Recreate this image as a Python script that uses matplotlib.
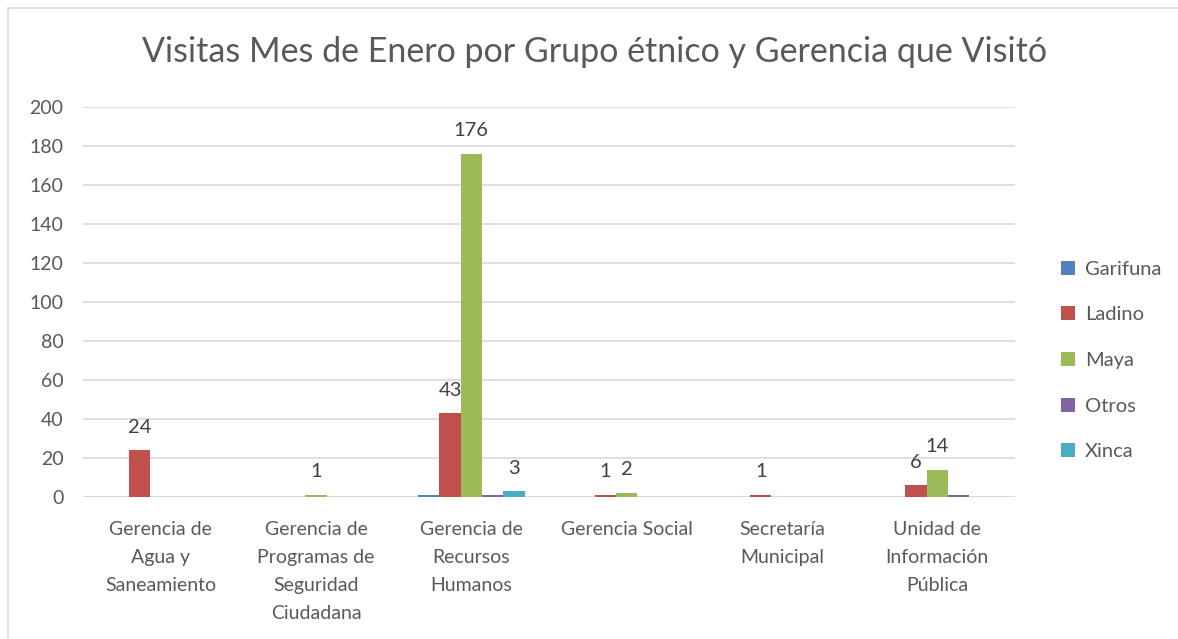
import numpy as np
import matplotlib.pyplot as plt
from matplotlib.patches import Rectangle

plt.rcParams['font.family'] = ['Lato', 'DejaVu Sans']

categories = [
    "Gerencia de\nAgua y\nSaneamiento",
    "Gerencia de\nProgramas de\nSeguridad\nCiudadana",
    "Gerencia de\nRecursos\nHumanos",
    "Gerencia Social",
    "Secretaría\nMunicipal",
    "Unidad de\nInformación\nPública",
]
series_names = ["Garifuna", "Ladino", "Maya", "Otros", "Xinca"]
garifuna = [0, 0, 1, 0, 0, 0]
ladino = [24, 0, 43, 1, 1, 6]
maya = [0, 1, 176, 2, 0, 14]
otros = [0, 0, 1, 0, 0, 1]
xinca = [0, 0, 3, 0, 0, 0]
# which values carry a data label in the original
shown = {
    "Garifuna": [False] * 6,
    "Ladino": [True, False, True, True, True, True],
    "Maya": [False, True, True, True, False, True],
    "Otros": [False] * 6,
    "Xinca": [False, False, True, False, False, False],
}
colors = ["#4F81BD", "#C0504D", "#9BBB59", "#8064A2", "#4BACC6"]

values = [garifuna, ladino, maya, otros, xinca]

fig = plt.figure(figsize=(11.78, 6.39), dpi=100)
fig.patches.append(Rectangle((8 / 1178, -0.1), 1.2, 1 - 8 / 639 + 0.1,
                             transform=fig.transFigure, fill=False,
                             edgecolor="#D9D9D9", linewidth=1.2))
ax = fig.add_axes([0.0705, 0.2222, 0.7911, 0.6104])

x = np.arange(len(categories))
width = 0.137
for i, (name, vals, c) in enumerate(zip(series_names, values, colors)):
    pos = x + (i - 2) * width
    ax.bar(pos, vals, width=width, color=c, label=name, zorder=3)
    for p, v, s in zip(pos, vals, shown[name]):
        if s:
            ax.text(p, v + 7.5, str(v), ha="center", va="bottom",
                    fontsize=14.5, color="#404040")

ax.set_ylim(0, 200)
ax.set_xlim(-0.5, len(categories) - 0.5)
ax.set_yticks(np.arange(0, 201, 20))
ax.yaxis.grid(True, color="#D9D9D9", linewidth=1.2, zorder=0)
for s in ax.spines.values():
    s.set_visible(False)
ax.axhline(0, color="#D9D9D9", linewidth=1.2, zorder=2)
ax.tick_params(axis="both", length=0, labelsize=14, labelcolor="#595959")
ax.tick_params(axis="y", pad=14)
ax.tick_params(axis="x", pad=17)
ax.set_xticks(x)
ax.set_xticklabels(categories, linespacing=1.8)

fig.text(0.505, 0.918, "Visitas Mes de Enero por Grupo étnico y Gerencia que Visitó",
         ha="center", va="center", fontsize=24.5, color="#595959")

leg = ax.legend(loc="center left", bbox_to_anchor=(1.03, 0.35), frameon=False,
                fontsize=14.5, labelspacing=1.42, handlelength=0.7,
                handleheight=0.7, handletextpad=0.5)
for t in leg.get_texts():
    t.set_color("#595959")

fig.savefig("out.png", dpi=100)
